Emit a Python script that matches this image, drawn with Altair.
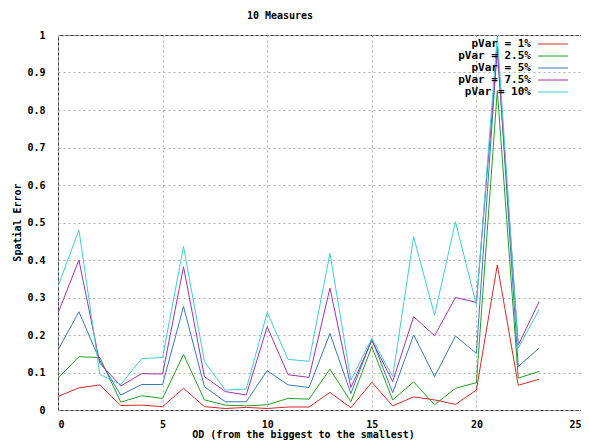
import altair as alt
import pandas as pd

FONT = "DejaVu Sans Mono"

od = list(range(24))
p1 = [0.036, 0.059, 0.067, 0.012, 0.013, 0.009, 0.058, 0.009, 0.004, 0.007, 0.004, 0.008,
      0.008, 0.047, 0.006, 0.074, 0.011, 0.035, 0.027, 0.015, 0.053, 0.387, 0.066, 0.082]
p25 = [0.085, 0.142, 0.140, 0.021, 0.038, 0.031, 0.148, 0.027, 0.013, 0.011, 0.014, 0.031,
       0.029, 0.109, 0.022, 0.169, 0.027, 0.075, 0.014, 0.058, 0.073, 0.852, 0.085, 0.103]
p5 = [0.160, 0.262, 0.132, 0.040, 0.068, 0.068, 0.276, 0.062, 0.022, 0.022, 0.105, 0.067,
      0.060, 0.204, 0.044, 0.189, 0.046, 0.200, 0.089, 0.197, 0.151, 0.970, 0.116, 0.165]
p75 = [0.258, 0.400, 0.125, 0.064, 0.097, 0.096, 0.382, 0.089, 0.049, 0.040, 0.222, 0.094,
       0.087, 0.325, 0.060, 0.185, 0.076, 0.249, 0.198, 0.300, 0.287, 0.960, 0.173, 0.289]
p10 = [0.330, 0.480, 0.095, 0.068, 0.137, 0.140, 0.436, 0.129, 0.053, 0.056, 0.260, 0.135,
       0.130, 0.418, 0.080, 0.191, 0.089, 0.462, 0.253, 0.502, 0.280, 1.000, 0.165, 0.268]

series_names = ["pVar = 1%", "pVar = 2.5%", "pVar = 5%", "pVar = 7.5%", "pVar = 10%"]
series_values = [p1, p25, p5, p75, p10]
colors = ["#d42a2a", "#22a022", "#3a78b8", "#a033a8", "#3ecfd0"]

x_ticks = [0, 5, 10, 15, 20, 25]
y_ticks = [0, 0.1, 0.2, 0.3, 0.4, 0.5, 0.6, 0.7, 0.8, 0.9, 1.0]
chart_title = ["10 Measures"]

rows = []
for name, vals in zip(series_names, series_values):
    for x, v in zip(od, vals):
        rows.append({"od": x, "err": v, "series": name})
df = pd.DataFrame(rows)

color_scale = alt.Scale(domain=series_names, range=colors)
y_scale = alt.Scale(domain=[0, 1], nice=False)
y_axis = alt.Axis(values=y_ticks, format=".1~f", title="Spatial Error",
                  labelPadding=13, titleX=-41, titleY=187, titleAngle=270,
                  titleBaseline="middle", titleAlign="center")

x_enc = alt.X("od:Q", scale=alt.Scale(domain=[0, 25], nice=False),
              axis=alt.Axis(values=x_ticks, title="OD (from the biggest to the smallest)",
                            labelPadding=9, titleX=245, titleY=24, titleBaseline="middle",
                            titleAlign="center"))

lines = alt.Chart(df).mark_line(strokeWidth=1, clip=True).encode(
    x=x_enc, y=alt.Y("err:Q", scale=y_scale, axis=y_axis),
    color=alt.Color("series:N", scale=color_scale, legend=None),
    order=alt.Order("od:Q"),
)

leg_df = pd.DataFrame({"series": series_names, "idx": list(range(len(series_names)))})
leg_base = alt.Chart(leg_df).transform_calculate(ypos="1 - (9 + 12 * datum.idx) / 375")
leg_text = leg_base.mark_text(align="right", baseline="middle", font=FONT, fontWeight="bold",
                              fontSize=11, color="black").encode(
    x=alt.value(473), y=alt.Y("ypos:Q", scale=y_scale, axis=y_axis), text="series:N")
leg_line = leg_base.mark_rule(strokeWidth=1).encode(
    x=alt.value(480), x2=alt.value(510), y=alt.Y("ypos:Q", scale=y_scale, axis=y_axis),
    color=alt.Color("series:N", scale=color_scale, legend=None))

title_df = pd.DataFrame({"t": chart_title})
title_mark = alt.Chart(title_df).mark_text(
    align="center", baseline="middle", font=FONT, fontWeight="bold", fontSize=10,
    color="black", clip=False).encode(x=alt.value(222), y=alt.value(-19), text="t:N")

chart = alt.layer(lines, leg_text, leg_line, title_mark).properties(
    width=523, height=375,
    autosize=alt.AutoSizeParams(type="none"),
    padding={"left": 50, "top": 27, "right": 0, "bottom": 30},
).configure_view(stroke="#404040", strokeWidth=1).configure_axis(
    grid=True, gridDash=[2, 3], gridColor="#b0b0b0", gridWidth=1,
    domain=False, ticks=False,
    labelFont=FONT, labelFontWeight="bold", labelFontSize=10, labelColor="black",
    titleFont=FONT, titleFontWeight="bold", titleFontSize=10, titleColor="black",
)

chart.save("out.html", embed_options={"renderer": "svg", "actions": False})
